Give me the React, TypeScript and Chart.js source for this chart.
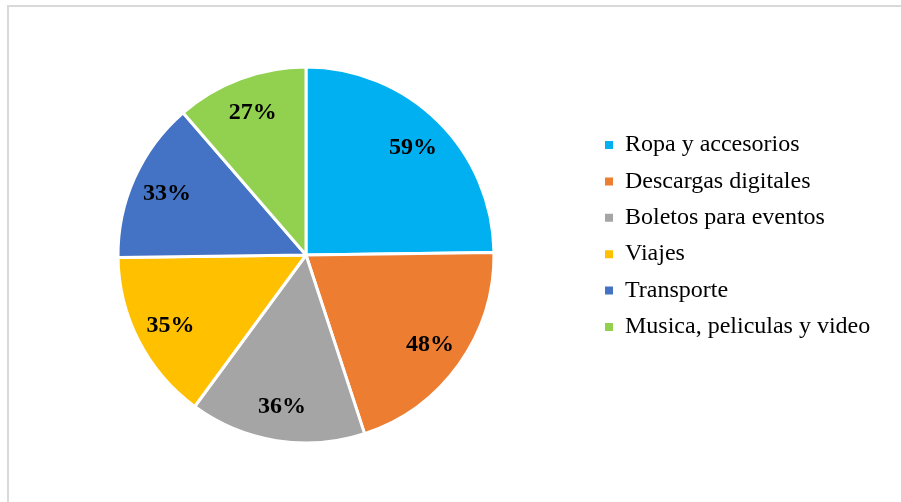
import React, { useEffect, useRef } from "react";
import { Chart, registerables } from "chart.js";

Chart.register(...registerables);

const categories = [
  "Ropa y accesorios",
  "Descargas digitales",
  "Boletos para eventos",
  "Viajes",
  "Transporte",
  "Musica, peliculas y video",
];
const values = [59, 48, 36, 35, 33, 27];
const valueLabels = ["59%", "48%", "36%", "35%", "33%", "27%"];
const colors = ["#00B0F0", "#ED7D31", "#A5A5A5", "#FFC000", "#4472C4", "#92D050"];

const W = 901;
const H = 502;
const FONT_FAMILY = "'Liberation Serif', 'Times New Roman', serif";
const LEGEND_SIZE = 24;
const LEGEND_PAD = 12.4;
const BOX = 8;

export default function App() {
  const ref = useRef<HTMLCanvasElement | null>(null);

  useEffect(() => {
    const canvas = ref.current;
    if (!canvas) return;
    const ctx = canvas.getContext("2d")!;
    ctx.font = `${LEGEND_SIZE}px ${FONT_FAMILY}`;
    let maxW = 0;
    categories.forEach((c) => {
      maxW = Math.max(maxW, ctx.measureText(c).width);
    });
    const legendLeft = 592.6;
    const legendWidth = LEGEND_PAD + BOX + LEGEND_SIZE / 2 + maxW + 10;
    const padRight = W - legendLeft - legendWidth;
    const centerX = 306;
    const padLeft = 2 * centerX - legendLeft;

    const legendShift = {
      id: "legendShift",
      afterLayout(chart: any) {
        const lg = chart.legend;
        if (lg) {
          lg.top -= 19;
          lg.bottom -= 19;
        }
      },
    };

    const dataLabels = {
      id: "dataLabels",
      afterDatasetsDraw(chart: any) {
        const c = chart.ctx;
        const meta = chart.getDatasetMeta(0);
        c.save();
        c.font = `bold 24px ${FONT_FAMILY}`;
        c.fillStyle = "#000000";
        c.textAlign = "center";
        c.textBaseline = "middle";
        meta.data.forEach((arc: any, i: number) => {
          const p = arc.getProps(["x", "y", "startAngle", "endAngle", "outerRadius"], true);
          const mid = (p.startAngle + p.endAngle) / 2;
          const r = p.outerRadius * 0.81;
          c.fillText(valueLabels[i], p.x + Math.cos(mid) * r, p.y + Math.sin(mid) * r + 1);
        });
        c.restore();
      },
    };

    const chart = new Chart(canvas, {
      type: "pie",
      data: {
        labels: categories,
        datasets: [
          {
            data: values,
            backgroundColor: colors,
            borderColor: "#ffffff",
            borderWidth: 3,
          },
        ],
      },
      options: {
        responsive: false,
        animation: false,
        layout: {
          padding: { left: padLeft, right: padRight, top: 65.5, bottom: 57.5 },
        },
        plugins: {
          legend: {
            display: true,
            position: "right",
            align: "center",
            labels: {
              boxWidth: BOX,
              boxHeight: BOX,
              padding: LEGEND_PAD,
              color: "#000000",
              font: { family: FONT_FAMILY, size: LEGEND_SIZE },
              generateLabels: (chart: any) =>
                Chart.overrides.pie.plugins.legend.labels
                  .generateLabels(chart)
                  .map((item: any) => ({ ...item, lineWidth: 0, strokeStyle: item.fillStyle })),
            },
          },
          tooltip: { enabled: false },
        },
      },
      plugins: [legendShift, dataLabels],
    });
    return () => chart.destroy();
  }, []);

  return (
    <div
      style={{
        position: "fixed",
        left: 0,
        top: 0,
        width: W,
        height: H,
        overflow: "hidden",
        background: "#ffffff",
      }}
    >
      <div
        style={{
          position: "absolute",
          left: 7,
          top: 5,
          width: 1000,
          height: 1000,
          border: "2px solid #d9d9d9",
        }}
      />
      <canvas
        ref={ref}
        width={W}
        height={H}
        style={{ position: "absolute", left: 0, top: 0, width: W, height: H }}
      />
    </div>
  );
}
